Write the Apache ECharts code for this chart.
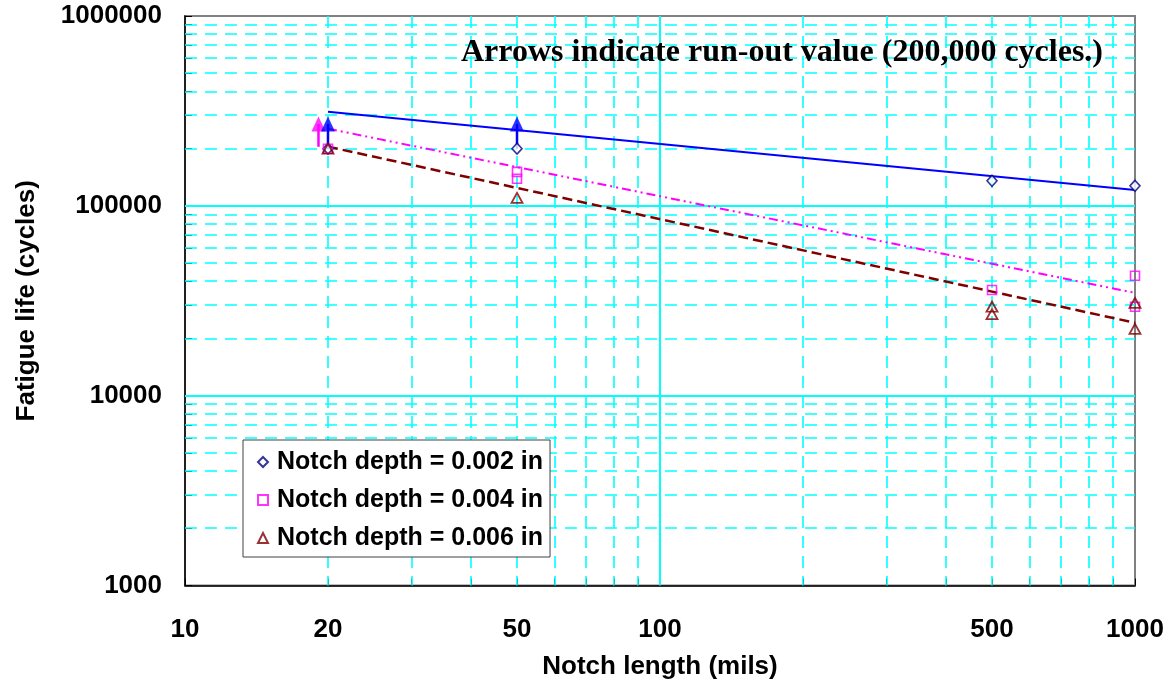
<!DOCTYPE html>
<html><head><meta charset="utf-8">
<script src="https://cdn.jsdelivr.net/npm/echarts@6/dist/echarts.min.js"></script>
<style>html,body{margin:0;padding:0;background:#fff}#c{width:1174px;height:689px}</style>
</head><body><div id="c"></div>
<script>
// ---- data ----
const seriesNames = ['Notch depth = 0.002 in', 'Notch depth = 0.004 in', 'Notch depth = 0.006 in'];
const depth002 = [[20, 200000], [50, 200000], [500, 135500], [1000, 127500]];
const depth004 = [[20, 200000], [50, 151000], [50, 139000], [500, 36000], [1000, 42800], [1000, 29400]];
const depth006 = [[20, 200000], [50, 110000], [500, 29400], [500, 26900], [1000, 30800], [1000, 22500]];
const trend002 = [[20, 313000], [1000, 121000]];
const trend004 = [[20, 255000], [1000, 34800]];
const trend006 = [[20, 205000], [1000, 24200]];
const runoutBlue1 = [[20, 200000], [20, 270000]];
const runoutBlue2 = [[50, 200000], [50, 270000]];
const runoutPink = [[19.1, 205000], [19.1, 270000]];
const xLabelValues = [10, 20, 50, 100, 500, 1000];
const xMinor = [20, 30, 40, 50, 60, 70, 80, 90, 200, 300, 400, 500, 600, 700, 800, 900];
const yMinor = [2000, 3000, 4000, 5000, 6000, 7000, 8000, 9000,
  20000, 30000, 40000, 50000, 60000, 70000, 80000, 90000,
  200000, 300000, 400000, 500000, 600000, 700000, 800000, 900000];
const xMajor = [100];
const yMajor = [10000, 100000];
const xDecades = [10, 100, 1000];
const yDecades = [1000, 10000, 100000, 1000000];
const noteText = 'Arrows indicate run-out value (200,000 cycles.)';

const FONT = 'Liberation Sans';
const CYAN = '#00FFFF';

const chart = echarts.init(document.getElementById('c'), null, {renderer: 'canvas'});

// grid lines drawn through the axes' own scales
function gridLineSeries(name, xVals, yVals, dash, width) {
  const data = xVals.map(v => [v, 1000, 0]).concat(yVals.map(v => [10, v, 1]));
  return {
    name: name, type: 'custom', silent: true, z: 1, clip: false,
    encode: {x: 0, y: 1},
    data: data,
    renderItem: function (params, api) {
      const cs = params.coordSys;
      const p = api.coord([api.value(0), api.value(1)]);
      let shape;
      if (api.value(2) === 0) {
        const x = Math.round(p[0]);
        shape = {x1: x, y1: cs.y, x2: x, y2: cs.y + cs.height};
      } else {
        const y = Math.round(p[1]);
        shape = {x1: cs.x, y1: y, x2: cs.x + cs.width, y2: y};
      }
      return {type: 'line', shape: shape, style: {stroke: CYAN, lineWidth: width, lineDash: dash, fill: null}};
    }
  };
}

const option = {
  animation: false,
  backgroundColor: '#fff',
  title: {
    text: noteText, left: 461, top: 37, padding: 0, z: 10,
    textStyle: {fontFamily: 'Liberation Serif', fontWeight: 'bold', fontSize: 32, color: '#000'}
  },
  grid: {left: 185, right: 39, top: 16, bottom: 103.5, outerBoundsMode: 'none', containLabel: false,
    show: true, borderColor: '#808080', borderWidth: 2, backgroundColor: 'transparent'},
  legend: {
    data: seriesNames, orient: 'vertical', left: 243, top: 440, z: 20,
    padding: [8, 7, 5, 14], itemGap: 10, itemWidth: 10, itemHeight: 10,
    backgroundColor: '#fff', borderColor: '#404040', borderWidth: 1,
    textStyle: {fontFamily: FONT, fontWeight: 'bold', fontSize: 25, color: '#000', lineHeight: 28, padding: [0, 0, 0, 4]}
  },
  xAxis: {
    type: 'log', logBase: 10, min: 10, max: 1000,
    name: 'Notch length (mils)', nameLocation: 'middle', nameGap: 68,
    nameTextStyle: {fontFamily: FONT, fontWeight: 'bold', fontSize: 26, color: '#000'},
    axisLine: {show: true, lineStyle: {color: '#000', width: 1.5}},
    axisTick: {show: true, inside: true, length: 7, customValues: xDecades.concat(xMinor), lineStyle: {color: '#000', width: 1}},
    axisLabel: {customValues: xLabelValues, margin: 31, fontFamily: FONT, fontWeight: 'bold', fontSize: 26, color: '#000',
      formatter: v => String(Math.round(v))},
    splitLine: {show: false},
    minorTick: {show: false}, minorSplitLine: {show: false}
  },
  yAxis: {
    type: 'log', logBase: 10, min: 1000, max: 1000000,
    name: 'Fatigue life (cycles)', nameLocation: 'middle', nameGap: 145,
    nameTextStyle: {fontFamily: FONT, fontWeight: 'bold', fontSize: 26, color: '#000'},
    axisLine: {show: true, lineStyle: {color: '#000', width: 1.5}},
    axisTick: {show: true, inside: true, length: 7, customValues: yDecades.concat(yMinor), lineStyle: {color: '#000', width: 1}},
    axisLabel: {customValues: yDecades, margin: 23, fontFamily: FONT, fontWeight: 'bold', fontSize: 26, color: '#000',
      formatter: v => String(Math.round(v))},
    splitLine: {show: false},
    minorTick: {show: false}, minorSplitLine: {show: false}
  },
  series: [
    gridLineSeries('_gridMinor', xMinor, yMinor, [12, 8], 1.6),
    gridLineSeries('_gridMajor', xMajor, yMajor, null, 2),
    {name: '_t002', type: 'line', data: trend002, symbol: 'none', z: 3, lineStyle: {color: '#0000FF', width: 2}},
    {name: '_t004', type: 'line', data: trend004, symbol: 'none', z: 3, lineStyle: {color: '#FF00FF', width: 2, type: [9, 4, 2, 4, 2, 4]}},
    {name: '_t006', type: 'line', data: trend006, symbol: 'none', z: 3, lineStyle: {color: '#800000', width: 2.5, type: [10, 5]}},
    {name: '_a1', type: 'line', data: runoutBlue1, symbol: 'none', z: 4, lineStyle: {color: '#0000FF', width: 2.5}},
    {name: '_a2', type: 'line', data: runoutBlue2, symbol: 'none', z: 4, lineStyle: {color: '#0000FF', width: 2.5}},
    {name: '_a3', type: 'line', data: runoutPink, symbol: 'none', z: 4, lineStyle: {color: '#FF00FF', width: 2.5}},
    {name: '_ah1', type: 'scatter', data: [runoutBlue1[1], runoutBlue2[1]], symbol: 'triangle', symbolSize: [14, 15], z: 5,
      itemStyle: {color: '#0000FF'}},
    {name: '_ah2', type: 'scatter', data: [runoutPink[1]], symbol: 'triangle', symbolSize: [14, 15], z: 4,
      itemStyle: {color: '#FF00FF'}},
    {name: seriesNames[0], type: 'scatter', data: depth002, symbol: 'diamond', symbolSize: [10, 11], z: 6,
      itemStyle: {color: '#fff', borderColor: '#000080', borderWidth: 1.6}},
    {name: seriesNames[1], type: 'scatter', data: depth004, symbol: 'rect', symbolSize: 9, z: 7,
      itemStyle: {color: 'rgba(255,255,255,0)', borderColor: '#FF00FF', borderWidth: 1.6}},
    {name: seriesNames[2], type: 'scatter', data: depth006, symbol: 'triangle', symbolSize: [11, 10], z: 8,
      itemStyle: {color: 'rgba(255,255,255,0)', borderColor: '#800000', borderWidth: 1.8}}
  ]
};
chart.setOption(option);
</script>
</body></html>
